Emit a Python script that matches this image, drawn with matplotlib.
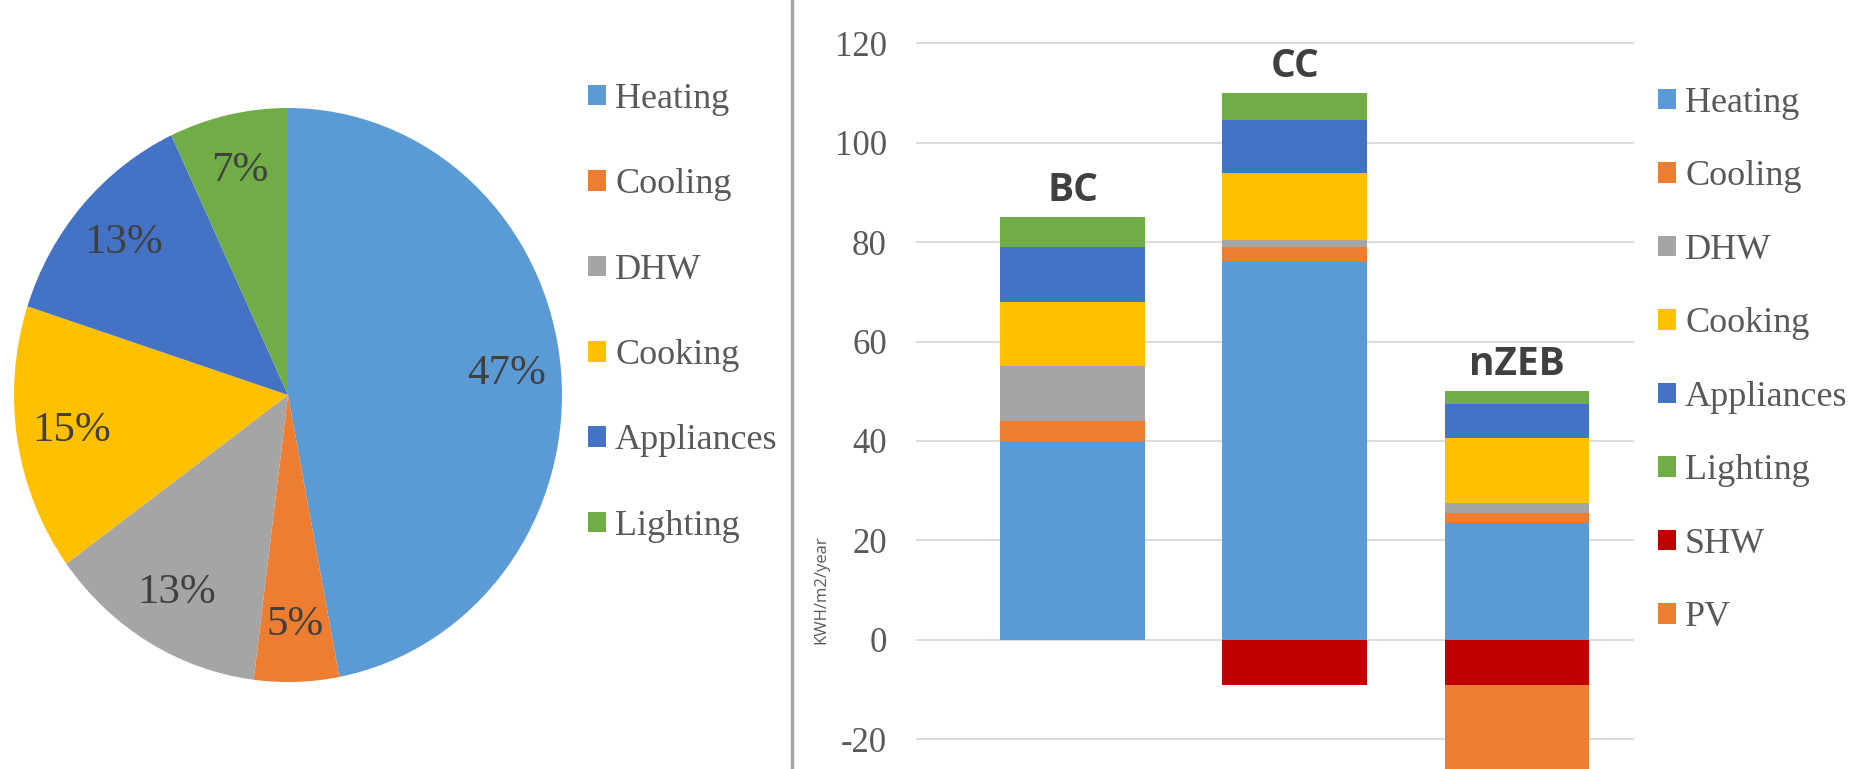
import matplotlib
matplotlib.use("Agg")
import matplotlib.pyplot as plt
from matplotlib.lines import Line2D
import numpy as np

# ---- pie: share of final energy use ----
pie_labels = ["Heating", "Cooling", "DHW", "Cooking", "Appliances", "Lighting"]
pie_shares = [47, 5, 13, 15, 13, 7]

# ---- stacked bars: kWh/m2/year per scenario ----
categories = ["BC", "CC", "nZEB"]
heating = [40, 76, 23.5]
cooling = [4, 3, 2]
dhw = [11, 1.5, 2]
cooking = [13, 13.5, 13]
appliances = [11, 10.5, 7]
lighting = [6, 5.5, 2.5]
shw = [0, -9, -9]
pv = [0, 0, -17]
y_ticks = [-20, 0, 20, 40, 60, 80, 100, 120]

colors = {
    "Heating": "#5B9BD5",
    "Cooling": "#ED7D31",
    "DHW": "#A5A5A5",
    "Cooking": "#FFC000",
    "Appliances": "#4472C4",
    "Lighting": "#70AD47",
    "SHW": "#C00000",
    "PV": "#ED7D31",
}

serif = "Liberation Serif"
txt_grey = "#595959"
W, H = 1858, 769

fig = plt.figure(figsize=(W / 100, H / 100), dpi=100)

# ===== pie =====
axp = fig.add_axes([14 / W, 1 - 682 / H, 548 / W, 574 / H])
wedges, _, autotexts = axp.pie(
    pie_shares,
    colors=[colors[k] for k in pie_labels],
    startangle=90, counterclock=False,
    autopct="%1.0f%%", pctdistance=0.8,
    textprops=dict(family=serif, fontsize=31, color="#404040"),
)
axp.set_aspect("auto")
axp.set_xlim(-1, 1)
axp.set_ylim(-1, 1)

fig.legend(wedges, pie_labels, loc="upper left",
           bbox_to_anchor=(588 / W, 1 - 83 / H),
           frameon=False, borderpad=0, borderaxespad=0,
           handlelength=0.5, handleheight=0.5, handletextpad=0.25,
           labelspacing=1.45,
           prop=dict(family=serif, size=26), labelcolor=txt_grey)

# separator between the two panels
fig.add_artist(Line2D([792 / W, 792 / W], [0, 1], transform=fig.transFigure,
                      color="#A6A6A6", lw=2.5))

# ===== stacked bars =====
axb = fig.add_axes([916 / W, 0, (1634 - 916) / W, 1 - 38.4 / H])
x = np.arange(len(categories))
width = 0.653

pos_series = [("Heating", heating), ("Cooling", cooling), ("DHW", dhw),
              ("Cooking", cooking), ("Appliances", appliances),
              ("Lighting", lighting)]
handles = []
bottom = np.zeros(len(categories))
for name, vals in pos_series:
    vals = np.array(vals, dtype=float)
    b = axb.bar(x, vals, width, bottom=bottom, color=colors[name], label=name)
    handles.append(b)
    bottom += vals
totals = bottom.copy()

neg_bottom = np.zeros(len(categories))
for name, vals in [("SHW", shw), ("PV", pv)]:
    vals = np.array(vals, dtype=float)
    b = axb.bar(x, vals, width, bottom=neg_bottom, color=colors[name], label=name)
    handles.append(b)
    neg_bottom += vals

for xi, cat, tot in zip(x, categories, totals):
    axb.annotate(cat, (xi, tot), xytext=(0, 11.5), textcoords="offset points",
                 ha="center", va="baseline", fontsize=28, fontweight="bold",
                 family="Open Sans", color="#404040")

axb.set_xlim(-0.707, 2.527)
axb.set_ylim(-26, 121)
axb.set_yticks(y_ticks)
axb.set_yticklabels([str(t) for t in y_ticks], family=serif, fontsize=25,
                    color=txt_grey)
axb.tick_params(axis="y", length=0, pad=21)
axb.set_xticks([])
axb.yaxis.grid(True, color="#D9D9D9", lw=1.3)
axb.set_axisbelow(True)
for s in axb.spines.values():
    s.set_visible(False)

fig.text(821 / W, 1 - 590 / H, "KWH/m2/year", rotation=90, ha="center",
         va="center", fontsize=12, family="Open Sans", color=txt_grey)

fig.legend(handles, [h.get_label() for h in handles], loc="upper left",
           bbox_to_anchor=(1658 / W, 1 - 87 / H),
           frameon=False, borderpad=0, borderaxespad=0,
           handlelength=0.5, handleheight=0.5, handletextpad=0.25,
           labelspacing=1.12,
           prop=dict(family=serif, size=26), labelcolor=txt_grey)

fig.savefig("out.png", dpi=100)
